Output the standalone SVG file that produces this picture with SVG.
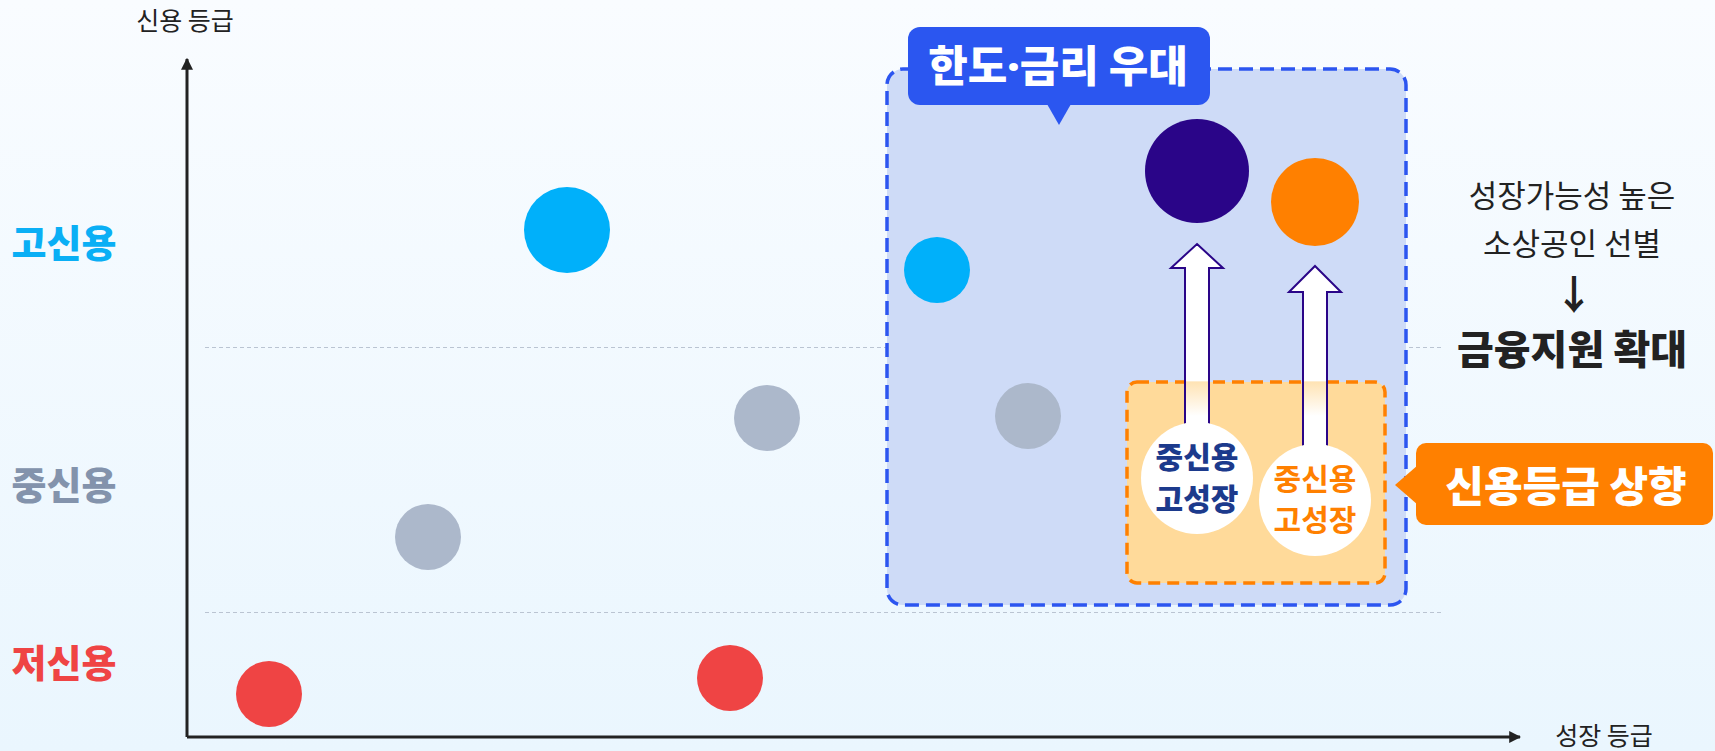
<svg xmlns="http://www.w3.org/2000/svg" width="1715" height="751" viewBox="0 0 1715 751">
<defs>
<linearGradient id="bg" x1="0" y1="0" x2="0" y2="1">
<stop offset="0" stop-color="#F9FCFF"/>
<stop offset="1" stop-color="#EAF6FE"/>
</linearGradient>
<linearGradient id="shaft" gradientUnits="userSpaceOnUse" x1="0" y1="240" x2="0" y2="460">
<stop offset="0" stop-color="#FFFFFF"/>
<stop offset="0.64" stop-color="#FFFFFF"/>
<stop offset="0.645" stop-color="#FFE3B4"/>
<stop offset="0.8" stop-color="#FFFFFF"/>
<stop offset="1" stop-color="#FFFFFF"/>
</linearGradient>
<marker id="ah" viewBox="0 0 10 10" refX="9" refY="5" markerWidth="4" markerHeight="4" orient="auto" markerUnits="strokeWidth">
<path d="M0,0 L10,5 L0,10 z" fill="#222"/>
</marker>
<style>
.k{font-family:"Noto Sans CJK KR","Noto Sans CJK SC",sans-serif;}
.axl{font-size:25px;fill:#222;}
.lvl{font-size:38px;font-weight:900;}
.grid{stroke:#BAC4D2;stroke-width:1;stroke-dasharray:4 3;fill:none;}
.axis{stroke:#222;stroke-width:3;fill:none;}
.uparrow{fill:url(#shaft);stroke:#2A0588;stroke-width:2;stroke-linejoin:miter;}
.bub{font-size:30px;}
.side{font-size:31px;fill:#222;}
</style>
</defs>
<rect width="1715" height="751" fill="url(#bg)"/>

<g id="grid-lines">
<line class="grid" x1="205" y1="347.5" x2="1443" y2="347.5"/>
<line class="grid" x1="205" y1="612.5" x2="1443" y2="612.5"/>
</g>

<g id="axes">
<line class="axis" x1="187" y1="737" x2="187" y2="59" marker-end="url(#ah)"/>
<line class="axis" x1="187" y1="737" x2="1520" y2="737" marker-end="url(#ah)"/>
<text class="k axl" x="185" y="30" text-anchor="middle">신용 등급</text>
<text class="k axl" x="1604" y="745" text-anchor="middle">성장 등급</text>
</g>

<g id="level-labels">
<text class="k lvl" x="64" y="257" text-anchor="middle" fill="#0AAFF5">고신용</text>
<text class="k lvl" x="64" y="499" text-anchor="middle" fill="#8393AC">중신용</text>
<text class="k lvl" x="64" y="677" text-anchor="middle" fill="#EF4444">저신용</text>
</g>

<g id="preferred-zone">
<rect x="887" y="69" width="519" height="536" rx="16" fill="#CEDBF7" stroke="#2C55F0" stroke-width="3.5" stroke-dasharray="14 7"/>
</g>

<g id="points">
<circle cx="567" cy="230" r="43" fill="#00B0FA"/>
<circle cx="428" cy="537" r="33" fill="#ACB8CB"/>
<circle cx="767" cy="418" r="33" fill="#ACB8CB"/>
<circle cx="269" cy="694" r="33" fill="#EF4444"/>
<circle cx="730" cy="678" r="33" fill="#EF4444"/>
<circle cx="937" cy="270" r="33" fill="#00B0FA"/>
<circle cx="1028" cy="416" r="33" fill="#ACB8CB"/>
<circle cx="1197" cy="171" r="52" fill="#2A0588"/>
<circle cx="1315" cy="202" r="44" fill="#FF8000"/>
</g>

<g id="upgrade-zone">
<rect x="1127" y="382" width="258" height="201" rx="10" fill="#FFDA9A" stroke="#FF8000" stroke-width="3.5" stroke-dasharray="12 7"/>
</g>

<g id="connectors">
<polygon class="uparrow" points="1197,244 1223,268 1209,268 1209,430 1185,430 1185,268 1171,268"/>
<polygon class="uparrow" points="1315,266 1341,292 1327,292 1327,452 1303,452 1303,292 1289,292"/>
</g>

<g id="bubble-1">
<circle cx="1197" cy="478" r="56" fill="#FFFFFF"/>
<text class="k bub" x="1197" y="468" text-anchor="middle" font-weight="900" fill="#1C3A8C">중신용</text>
<text class="k bub" x="1197" y="510" text-anchor="middle" font-weight="900" fill="#1C3A8C">고성장</text>
</g>

<g id="bubble-2">
<circle cx="1315" cy="500" r="56" fill="#FFFFFF"/>
<text class="k bub" x="1315" y="490" text-anchor="middle" font-weight="700" fill="#FF8000">중신용</text>
<text class="k bub" x="1315" y="531" text-anchor="middle" font-weight="700" fill="#FF8000">고성장</text>
</g>

<g id="label-preferential">
<rect x="908" y="27" width="302" height="78" rx="12" fill="#2B56F0"/>
<polygon points="1047,104 1071,104 1059,125" fill="#2B56F0"/>
<text class="k" x="1058" y="82" text-anchor="middle" font-size="43" font-weight="900" fill="#FFFFFF">한도<tspan font-family="Noto Sans, sans-serif">·</tspan>금리 우대</text>
</g>

<g id="label-upgrade">
<rect x="1416" y="443" width="297" height="82" rx="10" fill="#FF8000"/>
<polygon points="1418,465 1418,505 1395,485" fill="#FF8000"/>
<text class="k" x="1566" y="502" text-anchor="middle" font-size="42" font-weight="900" fill="#FFFFFF">신용등급 상향</text>
</g>

<g id="side-note">
<text class="k side" x="1572" y="207" text-anchor="middle">성장가능성 높은</text>
<text class="k side" x="1572" y="255" text-anchor="middle">소상공인 선별</text>
<text class="k" x="1574" y="309" text-anchor="middle" font-size="40" font-weight="700" fill="#222">↓</text>
<text class="k" x="1572" y="364" text-anchor="middle" font-size="40" font-weight="900" fill="#222">금융지원 확대</text>
</g>
</svg>
